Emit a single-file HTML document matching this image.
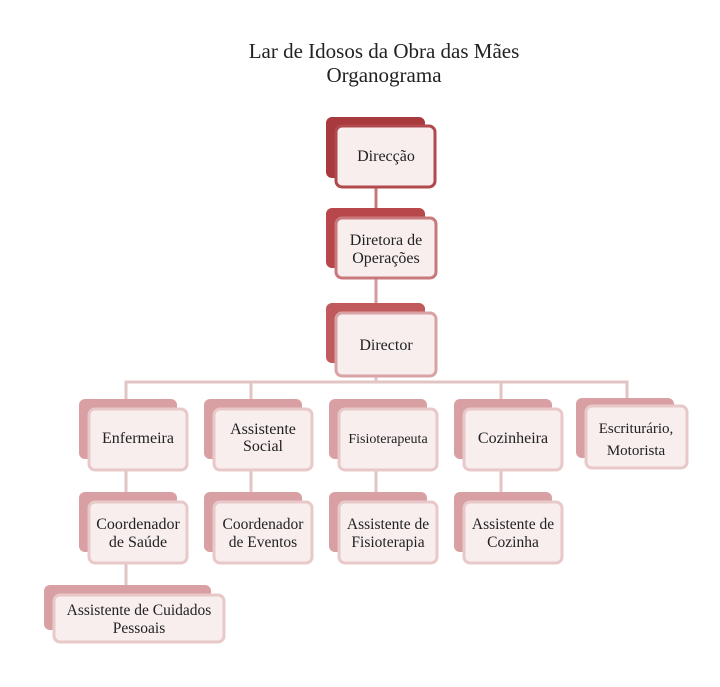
<!DOCTYPE html>
<html><head><meta charset="utf-8"><style>
body{margin:0;background:#fff;}
svg text{font-family:"Liberation Serif",serif;fill:#222;}
</style></head><body>
<svg width="720" height="682" viewBox="0 0 720 682" xmlns="http://www.w3.org/2000/svg">
<text x="384" y="58" font-size="21" text-anchor="middle">Lar de Idosos da Obra das Mães</text>
<text x="384" y="82" font-size="21" text-anchor="middle">Organograma</text>
<g stroke="#e2c4c5" stroke-width="3" fill="none">
<line x1="376" y1="180" x2="376" y2="210" stroke="#c77a7d"/>
<line x1="376" y1="272" x2="376" y2="305" stroke="#d49a9c"/>
<line x1="376" y1="370" x2="376" y2="382"/>
<polyline points="126,400 126,382 627,382 627,400"/>
<line x1="251" y1="382" x2="251" y2="400"/>
<line x1="501" y1="382" x2="501" y2="400"/>
<line x1="126" y1="465" x2="126" y2="493"/>
<line x1="251" y1="465" x2="251" y2="493"/>
<line x1="376" y1="465" x2="376" y2="493"/>
<line x1="501" y1="465" x2="501" y2="493"/>
<line x1="126" y1="558" x2="126" y2="586"/>
</g>
<rect x="326" y="117" width="99" height="61" rx="6" fill="#a83a3e"/>
<rect x="336" y="126" width="99" height="61" rx="6" fill="#f8eeee" stroke="#b04a4d" stroke-width="3"/>
<text x="386" y="161" font-size="16" text-anchor="middle">Direcção</text>
<rect x="326" y="208" width="99" height="60" rx="6" fill="#b8474b"/>
<rect x="336" y="218" width="100" height="60" rx="6" fill="#f8eeee" stroke="#c8797c" stroke-width="3"/>
<text x="386" y="245" font-size="16" text-anchor="middle">Diretora de</text>
<text x="386" y="263" font-size="16" text-anchor="middle">Operações</text>
<rect x="326" y="303" width="99" height="60" rx="6" fill="#c05a5c"/>
<rect x="336" y="313" width="100" height="63" rx="6" fill="#f8eeee" stroke="#d9a3a5" stroke-width="3"/>
<text x="386" y="350" font-size="16" text-anchor="middle">Director</text>
<g>
<rect x="79" y="399" width="98" height="60" rx="6" fill="#d8a0a2"/>
<rect x="89" y="409" width="98" height="61" rx="6" fill="#f8eeee" stroke="#e8c8c9" stroke-width="3"/>
<text x="138" y="443" font-size="16" text-anchor="middle">Enfermeira</text>
<rect x="204" y="399" width="98" height="60" rx="6" fill="#d8a0a2"/>
<rect x="214" y="409" width="98" height="61" rx="6" fill="#f8eeee" stroke="#e8c8c9" stroke-width="3"/>
<text x="263" y="434" font-size="16" text-anchor="middle">Assistente</text>
<text x="263" y="451" font-size="16" text-anchor="middle">Social</text>
<rect x="329" y="399" width="98" height="60" rx="6" fill="#d8a0a2"/>
<rect x="339" y="409" width="98" height="61" rx="6" fill="#f8eeee" stroke="#e8c8c9" stroke-width="3"/>
<text x="388" y="443" font-size="14" text-anchor="middle">Fisioterapeuta</text>
<rect x="454" y="399" width="98" height="60" rx="6" fill="#d8a0a2"/>
<rect x="464" y="409" width="98" height="61" rx="6" fill="#f8eeee" stroke="#e8c8c9" stroke-width="3"/>
<text x="513" y="443" font-size="16" text-anchor="middle">Cozinheira</text>
<rect x="576" y="398" width="98" height="60" rx="6" fill="#d8a0a2"/>
<rect x="586" y="406" width="101" height="62" rx="6" fill="#f8eeee" stroke="#e8c8c9" stroke-width="3"/>
<text x="636" y="433" font-size="15" text-anchor="middle">Escriturário,</text>
<text x="636" y="455" font-size="15" text-anchor="middle">Motorista</text>
<rect x="79" y="492" width="98" height="60" rx="6" fill="#d8a0a2"/>
<rect x="89" y="502" width="98" height="61" rx="6" fill="#f8eeee" stroke="#e8c8c9" stroke-width="3"/>
<text x="138" y="529" font-size="16" text-anchor="middle">Coordenador</text>
<text x="138" y="547" font-size="16" text-anchor="middle">de Saúde</text>
<rect x="204" y="492" width="98" height="60" rx="6" fill="#d8a0a2"/>
<rect x="214" y="502" width="98" height="61" rx="6" fill="#f8eeee" stroke="#e8c8c9" stroke-width="3"/>
<text x="263" y="529" font-size="15.5" text-anchor="middle">Coordenador</text>
<text x="263" y="547" font-size="15.5" text-anchor="middle">de Eventos</text>
<rect x="329" y="492" width="98" height="60" rx="6" fill="#d8a0a2"/>
<rect x="339" y="502" width="98" height="61" rx="6" fill="#f8eeee" stroke="#e8c8c9" stroke-width="3"/>
<text x="388" y="529" font-size="15.5" text-anchor="middle">Assistente de</text>
<text x="388" y="547" font-size="15.5" text-anchor="middle">Fisioterapia</text>
<rect x="454" y="492" width="98" height="60" rx="6" fill="#d8a0a2"/>
<rect x="464" y="502" width="98" height="61" rx="6" fill="#f8eeee" stroke="#e8c8c9" stroke-width="3"/>
<text x="513" y="529" font-size="15.5" text-anchor="middle">Assistente de</text>
<text x="513" y="547" font-size="15.5" text-anchor="middle">Cozinha</text>
<rect x="44" y="585" width="167" height="45" rx="6" fill="#d8a0a2"/>
<rect x="54" y="595" width="170" height="47" rx="6" fill="#f8eeee" stroke="#e8c8c9" stroke-width="3"/>
<text x="139" y="615" font-size="15.5" text-anchor="middle">Assistente de Cuidados</text>
<text x="139" y="633" font-size="15.5" text-anchor="middle">Pessoais</text>
</g>
</svg>
</body></html>
